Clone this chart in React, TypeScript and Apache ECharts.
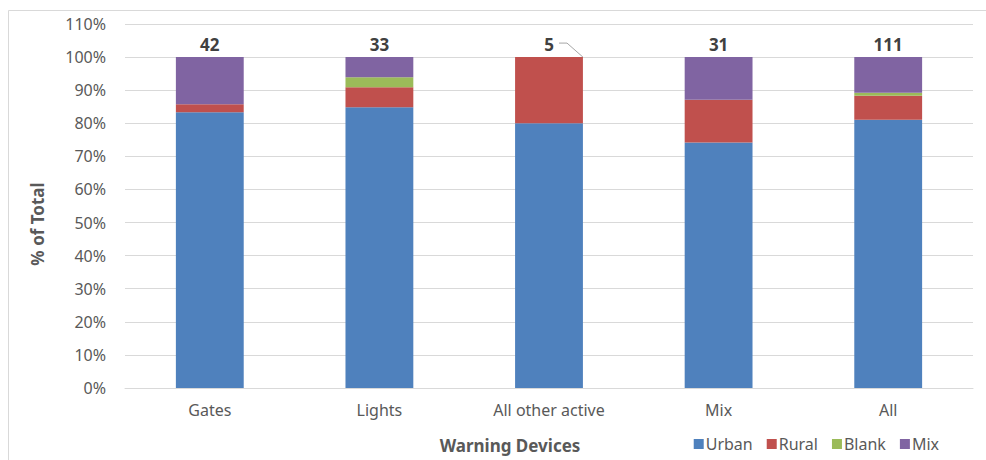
import React, { useEffect, useRef } from "react";
import * as echarts from "echarts";

// Crossing counts by warning device type and area
const categories = ["Gates", "Lights", "All other active", "Mix", "All"];
const urbanCounts = [35, 28, 4, 23, 90];
const ruralCounts = [1, 2, 1, 4, 8];
const blankCounts = [0, 1, 0, 0, 1];
const mixCounts = [6, 2, 0, 4, 12];

const seriesNames = ["Urban", "Rural", "Blank", "Mix"];
const seriesColors = ["#4F81BD", "#C0504D", "#9BBB59", "#8064A2"];

const FONT = "'Noto Sans', 'DejaVu Sans', sans-serif";
const TEXT_GRAY = "#595959";

export default function App() {
  const ref = useRef<HTMLDivElement>(null);

  useEffect(() => {
    if (!ref.current) return;
    const chart = echarts.init(ref.current, null, { renderer: "svg" });

    const totals = categories.map(
      (_, i) => urbanCounts[i] + ruralCounts[i] + blankCounts[i] + mixCounts[i]
    );
    const pct = (arr: number[]) => arr.map((v, i) => (v / totals[i]) * 100);
    const groups = [urbanCounts, ruralCounts, blankCounts, mixCounts];

    const series = groups.map((counts, si) => {
      const isTop = si === groups.length - 1;
      return {
        name: seriesNames[si],
        type: "bar",
        stack: "total",
        barWidth: "40%",
        itemStyle: { color: seriesColors[si] },
        data: pct(counts),
        label: isTop
          ? {
              show: true,
              position: "top",
              distance: 4,
              formatter: (p: any) => String(totals[p.dataIndex]),
              fontFamily: FONT,
              fontSize: 17,
              fontWeight: "bold",
              color: "#404040",
            }
          : { show: false },
      };
    });

    chart.setOption({
      animation: false,
      textStyle: { fontFamily: FONT },
      grid: { left: 125, right: 13, top: 24, bottom: 72, containLabel: false },
      xAxis: {
        type: "category",
        data: categories,
        axisLine: { show: true, lineStyle: { color: "#D9D9D9" } },
        axisTick: { show: false },
        axisLabel: { color: TEXT_GRAY, fontSize: 16, margin: 14, fontFamily: FONT },
      },
      yAxis: {
        type: "value",
        min: 0,
        max: 110,
        interval: 10,
        axisLine: { show: false },
        axisTick: { show: false },
        axisLabel: {
          color: TEXT_GRAY,
          fontSize: 16,
          margin: 19,
          fontFamily: FONT,
          formatter: (v: number) => `${v}%`,
        },
        splitLine: { lineStyle: { color: "#D9D9D9" } },
      },
      legend: {
        data: seriesNames,
        right: 42,
        top: 431,
        itemWidth: 10,
        itemHeight: 10,
        itemGap: 14,
        icon: "rect",
        textStyle: { color: TEXT_GRAY, fontSize: 16, fontFamily: FONT, padding: [0, 0, 0, -3] },
      },
      series,
    });

    // Axis titles, frame and the leader line for the small "All other active" total
    const idx = 2;
    const corner = chart.convertToPixel({ xAxisIndex: 0, yAxisIndex: 0 }, [idx, 100]) as number[];
    const bandWidth = (986 - 125 - 13) / categories.length;
    const barHalf = bandWidth * 0.2;
    const topRight = [corner[0] + barHalf, corner[1]];
    const labelY = corner[1] - 14;

    chart.setOption({
      graphic: [
        {
          type: "rect",
          shape: { x: 8.5, y: 10.5, width: 1000, height: 500 },
          style: { fill: "none", stroke: "#D9D9D9", lineWidth: 1 },
          silent: true,
        },
        {
          type: "text",
          x: 510,
          y: 445,
          style: {
            text: "Warning Devices",
            fontFamily: FONT,
            fontSize: 17,
            fontWeight: "bold",
            fill: TEXT_GRAY,
            align: "center",
            verticalAlign: "middle",
          },
        },
        {
          type: "text",
          x: 37,
          y: 224,
          rotation: Math.PI / 2,
          style: {
            text: "% of Total",
            fontFamily: FONT,
            fontSize: 17,
            fontWeight: "bold",
            fill: TEXT_GRAY,
            align: "center",
            verticalAlign: "middle",
          },
        },
        {
          type: "polyline",
          shape: {
            points: [
              [corner[0] + 10, labelY],
              [corner[0] + 18, labelY],
              topRight,
            ],
          },
          style: { stroke: "#A6A6A6", lineWidth: 1, fill: "none" },
          silent: true,
        },
      ],
    });

    return () => chart.dispose();
  }, []);

  return (
    <div
      ref={ref}
      style={{ position: "absolute", left: 0, top: 0, width: 986, height: 460, background: "#fff" }}
    />
  );
}
